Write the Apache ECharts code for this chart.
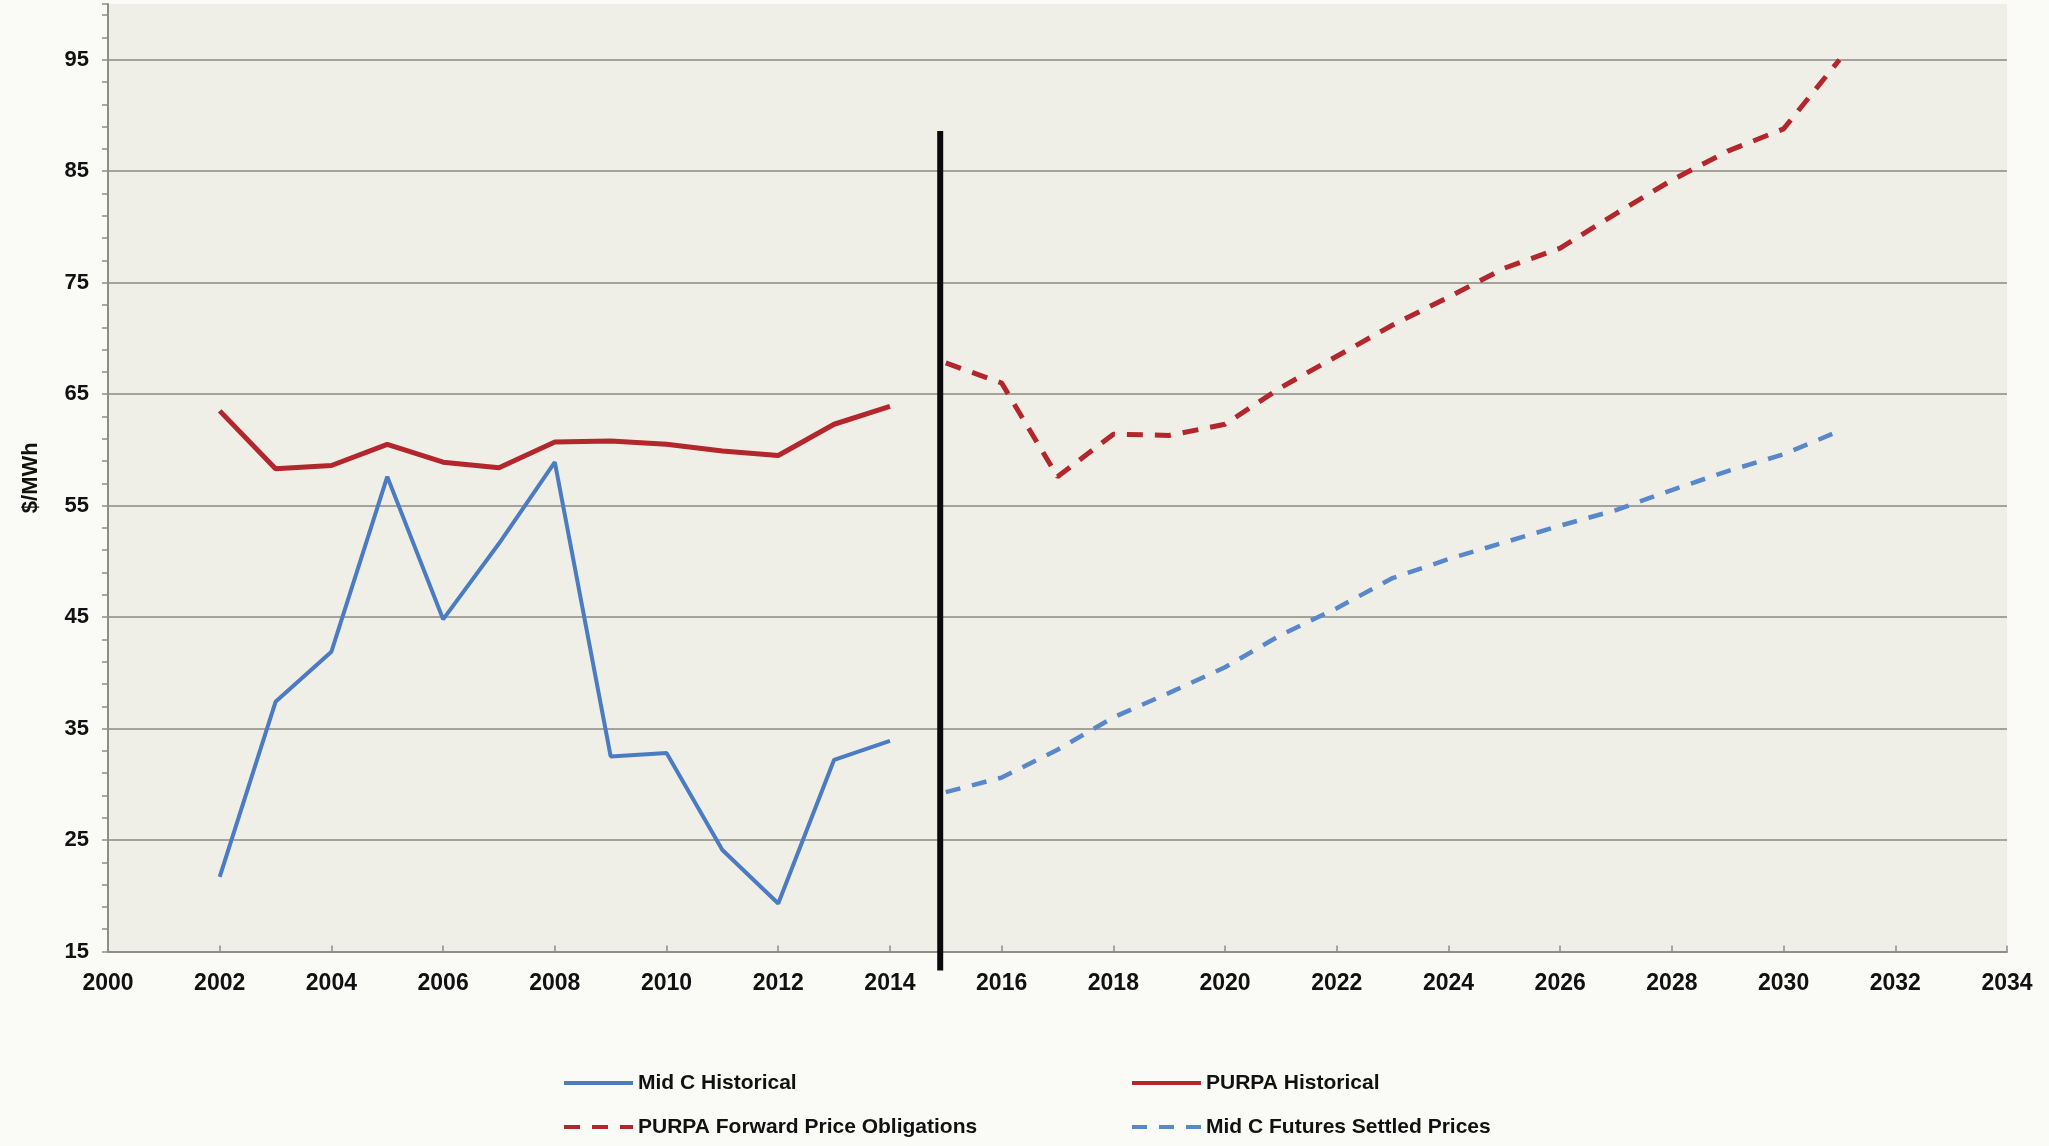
<!DOCTYPE html>
<html>
<head>
<meta charset="utf-8">
<script src="https://cdn.jsdelivr.net/npm/echarts@6/dist/echarts.min.js"></script>
<style>
  html, body { margin: 0; padding: 0; background: #FAFAF7; }
  #chart { width: 2049px; height: 1146px; }
</style>
</head>
<body>
<div id="chart"></div>
<script>
// ---- data ----
const historicalYears = [2002, 2003, 2004, 2005, 2006, 2007, 2008, 2009, 2010, 2011, 2012, 2013, 2014];
const midCHistorical  = [21.7, 37.4, 41.9, 57.6, 44.8, 51.6, 58.9, 32.5, 32.8, 24.1, 19.3, 32.2, 33.9];
const purpaHistorical = [63.5, 58.3, 58.6, 60.5, 58.9, 58.4, 60.7, 60.8, 60.5, 59.9, 59.5, 62.3, 63.9];

const forwardYears = [2015, 2016, 2017, 2018, 2019, 2020, 2021, 2022, 2023, 2024, 2025, 2026, 2027, 2028, 2029, 2030, 2031];
const purpaForward = [67.8, 66.0, 57.6, 61.4, 61.3, 62.3, 65.6, 68.4, 71.2, 73.7, 76.3, 78.1, 81.2, 84.2, 86.8, 88.8, 95.0];
const midCFutures  = [29.3, 30.6, 33.1, 36.0, 38.2, 40.5, 43.4, 45.8, 48.5, 50.2, 51.7, 53.2, 54.6, 56.4, 58.1, 59.6, 61.7];

// vertical divider between history and forecast, [year, $/MWh]
const dividerYear = 2014.9;
const dividerRange = [88.6, 13.3];

const seriesNames = ['Mid C Historical', 'PURPA Historical', 'PURPA Forward Price Obligations', 'Mid C Futures Settled Prices'];
const yAxisName = '$/MWh';

// ---- build ----
const pair = (xs, ys) => xs.map((x, i) => [x, ys[i]]);
const FONT = "'Liberation Sans', Arial, sans-serif";
const BLUE = '#4A7BC3';
const BLUE_D = '#5887CB';
const RED = '#B2262C';

const legendBase = {
  orient: 'vertical',
  top: 1072,
  padding: 0,
  itemGap: 22,
  itemWidth: 69, itemHeight: 14,
  itemStyle: { opacity: 0 },
  lineStyle: { width: 4 },
  textStyle: { fontFamily: FONT, fontWeight: 'bold', fontSize: 21, lineHeight: 22, color: '#111' }
};

const chart = echarts.init(document.getElementById('chart'));
chart.setOption({
  backgroundColor: '#FAFAF7',
  animation: false,
  textStyle: { fontFamily: FONT },
  grid: {
    left: 108, right: 42, top: 4, bottom: 194.5,
    containLabel: false,
    outerBoundsMode: 'none',
    show: true,
    backgroundColor: '#EFEEE7',
    borderWidth: 0
  },
  legend: [
    Object.assign({}, legendBase, { left: 562, data: [seriesNames[0], seriesNames[2]] }),
    Object.assign({}, legendBase, { left: 1130, data: [seriesNames[1], seriesNames[3]] })
  ],
  xAxis: {
    type: 'value',
    min: 2000, max: 2034, interval: 2,
    axisLine: { show: true, lineStyle: { color: '#8E8E88', width: 2 } },
    axisTick: { show: true, inside: true, length: 6, lineStyle: { color: '#8E8E88', width: 1.5 } },
    splitLine: { show: false },
    axisLabel: {
      margin: 21, fontFamily: FONT, fontWeight: 'bold', fontSize: 23, color: '#111',
      formatter: v => String(v)
    }
  },
  yAxis: {
    type: 'value',
    min: 15, max: 100, interval: 10,
    name: yAxisName,
    nameLocation: 'middle',
    nameRotate: 90,
    nameGap: 66,
    nameTextStyle: { fontFamily: FONT, fontWeight: 'bold', fontSize: 22, color: '#111' },
    axisLine: { show: true, lineStyle: { color: '#8E8E88', width: 2 } },
    axisTick: { show: true, length: 6, lineStyle: { color: '#8E8E88', width: 1.5 } },
    minorTick: { show: true, splitNumber: 5, length: 6, lineStyle: { color: '#8E8E88', width: 1.5 } },
    splitLine: { show: true, showMaxLine: false, lineStyle: { color: '#A3A39B', width: 2 } },
    axisLabel: { margin: 19, showMaxLabel: false, fontFamily: FONT, fontWeight: 'bold', fontSize: 22, color: '#111' }
  },
  series: [
    {
      name: seriesNames[0], type: 'line', data: pair(historicalYears, midCHistorical),
      symbol: 'none', lineStyle: { color: BLUE, width: 4 }, itemStyle: { color: BLUE }
    },
    {
      name: seriesNames[1], type: 'line', data: pair(historicalYears, purpaHistorical),
      symbol: 'none', lineStyle: { color: RED, width: 5 }, itemStyle: { color: RED }
    },
    {
      name: seriesNames[2], type: 'line', data: pair(forwardYears, purpaForward),
      symbol: 'none', lineStyle: { color: RED, width: 5, type: [16, 12] }, itemStyle: { color: RED }
    },
    {
      name: seriesNames[3], type: 'line', data: pair(forwardYears, midCFutures),
      symbol: 'none', lineStyle: { color: BLUE_D, width: 4.5, type: [15, 12] }, itemStyle: { color: BLUE_D }
    },
    {
      name: 'divider', type: 'line', silent: true, clip: false,
      data: dividerRange.map(v => [dividerYear, v]),
      symbol: 'none', lineStyle: { color: '#0A0A0A', width: 6 }, z: 5
    }
  ]
});
</script>
</body>
</html>
